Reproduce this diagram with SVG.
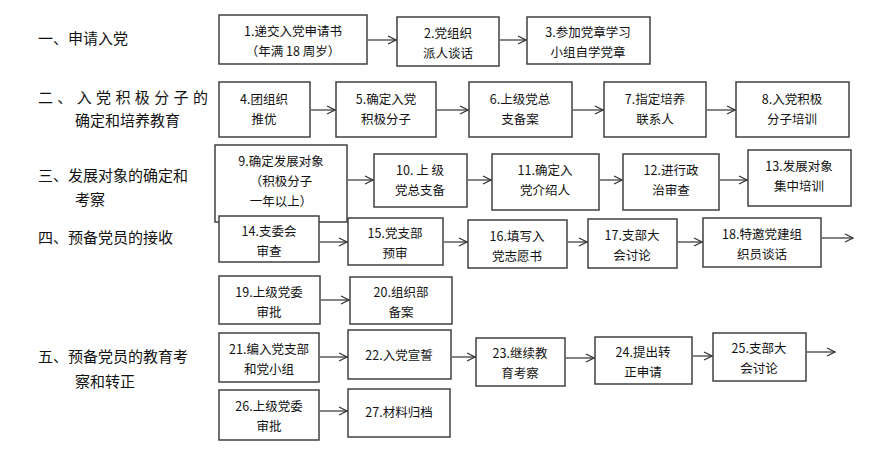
<svg xmlns="http://www.w3.org/2000/svg" width="877" height="455" viewBox="0 0 877 455">
<style>
rect{fill:#fff;stroke:#404040;stroke-width:1.5}
text{font-family:"Noto Sans CJK SC","Liberation Sans",sans-serif;fill:#111}
.b{font-size:12.5px;text-anchor:middle}
.h{font-size:15px}
.c line{stroke:#333;stroke-width:1.2;marker-end:url(#a)}
</style>
<defs><marker id="a" markerWidth="10" markerHeight="10" refX="9" refY="5" orient="auto" markerUnits="userSpaceOnUse"><path d="M1,1 L9,5 L1,9" fill="none" stroke="#333" stroke-width="1.2"/></marker></defs>
<rect width="877" height="455" style="stroke:none"/>
<g id="headings" class="h">
<text class="h" x="38" y="44">一、申请入党</text>
<text class="h" x="38" y="103" textLength="170">二、入党积极分子的</text>
<text class="h" x="75" y="126">确定和培养教育</text>
<text class="h" x="38" y="181">三、发展对象的确定和</text>
<text class="h" x="75" y="205">考察</text>
<text class="h" x="38" y="243">四、预备党员的接收</text>
<text class="h" x="38" y="362">五、预备党员的教育考</text>
<text class="h" x="75" y="387">察和转正</text>
</g>
<g id="n1"><rect x="219" y="15" width="148" height="49"/><text class="b" x="293" y="36">1.递交入党申请书</text><text class="b" x="293" y="56">（年满 18 周岁）</text></g>
<g id="n2"><rect x="397" y="17" width="102" height="49"/><text class="b" x="448" y="38">2.党组织</text><text class="b" x="448" y="58">派人谈话</text></g>
<g id="n3"><rect x="527" y="17" width="123" height="47"/><text class="b" x="588" y="37">3.参加党章学习</text><text class="b" x="588" y="57">小组自学党章</text></g>
<g id="n4"><rect x="219" y="82" width="91" height="55"/><text class="b" x="264" y="104">4.团组织</text><text class="b" x="264" y="124">推优</text></g>
<g id="n5"><rect x="336" y="82" width="100" height="55"/><text class="b" x="386" y="104">5.确定入党</text><text class="b" x="386" y="124">积极分子</text></g>
<g id="n6"><rect x="469" y="82" width="103" height="55"/><text class="b" x="520" y="104">6.上级党总</text><text class="b" x="520" y="124">支备案</text></g>
<g id="n7"><rect x="604" y="82" width="102" height="55"/><text class="b" x="655" y="104">7.指定培养</text><text class="b" x="655" y="124">联系人</text></g>
<g id="n8"><rect x="736" y="82" width="113" height="55"/><text class="b" x="792" y="104">8.入党积极</text><text class="b" x="792" y="124">分子培训</text></g>
<g id="n9"><rect x="215" y="145" width="132" height="77"/><text class="b" x="281" y="166">9.确定发展对象</text><text class="b" x="281" y="186">（积极分子</text><text class="b" x="281" y="206">一年以上）</text></g>
<g id="n10"><rect x="374" y="154" width="93" height="53"/><text class="b" x="420" y="175">10. 上 级</text><text class="b" x="420" y="195">党总支备</text></g>
<g id="n11"><rect x="492" y="154" width="107" height="56"/><text class="b" x="545" y="175">11.确定入</text><text class="b" x="545" y="195">党介绍人</text></g>
<g id="n12"><rect x="623" y="154" width="96" height="56"/><text class="b" x="671" y="175">12.进行政</text><text class="b" x="671" y="195">治审查</text></g>
<g id="n13"><rect x="748" y="150" width="103" height="56"/><text class="b" x="799" y="171">13.发展对象</text><text class="b" x="799" y="191">集中培训</text></g>
<g id="n14"><rect x="219" y="216" width="100" height="46"/><text class="b" x="269" y="236">14.支委会</text><text class="b" x="269" y="256">审查</text></g>
<g id="n15"><rect x="348" y="218" width="95" height="47"/><text class="b" x="395" y="238">15.党支部</text><text class="b" x="395" y="258">预审</text></g>
<g id="n16"><rect x="468" y="220" width="99" height="48"/><text class="b" x="517" y="241">16.填写入</text><text class="b" x="517" y="261">党志愿书</text></g>
<g id="n17"><rect x="588" y="219" width="89" height="49"/><text class="b" x="632" y="240">17.支部大</text><text class="b" x="632" y="260">会讨论</text></g>
<g id="n18"><rect x="703" y="218" width="118" height="49"/><text class="b" x="762" y="239">18.特邀党建组</text><text class="b" x="762" y="259">织员谈话</text></g>
<g id="n19"><rect x="219" y="276" width="101" height="48"/><text class="b" x="269" y="297">19.上级党委</text><text class="b" x="269" y="317">审批</text></g>
<g id="n20"><rect x="350" y="277" width="102" height="47"/><text class="b" x="401" y="297">20.组织部</text><text class="b" x="401" y="317">备案</text></g>
<g id="n21"><rect x="219" y="333" width="100" height="49"/><text class="b" x="269" y="354">21.编入党支部</text><text class="b" x="269" y="374">和党小组</text></g>
<g id="n22"><rect x="348" y="330" width="103" height="49"/><text class="b" x="399" y="360">22.入党宣誓</text></g>
<g id="n23"><rect x="476" y="338" width="89" height="48"/><text class="b" x="520" y="358">23.继续教</text><text class="b" x="520" y="378">育考察</text></g>
<g id="n24"><rect x="595" y="337" width="97" height="47"/><text class="b" x="643" y="357">24.提出转</text><text class="b" x="643" y="377">正申请</text></g>
<g id="n25"><rect x="713" y="333" width="93" height="48"/><text class="b" x="759" y="353">25.支部大</text><text class="b" x="759" y="373">会讨论</text></g>
<g id="n26"><rect x="219" y="390" width="100" height="50"/><text class="b" x="269" y="411">26.上级党委</text><text class="b" x="269" y="431">审批</text></g>
<g id="n27"><rect x="348" y="389" width="102" height="48"/><text class="b" x="399" y="417">27.材料归档</text></g>
<g id="connectors" class="c">
<line x1="368" y1="40" x2="396" y2="40"/>
<line x1="500" y1="40" x2="526" y2="40"/>
<line x1="311" y1="110" x2="335" y2="110"/>
<line x1="437" y1="110" x2="468" y2="110"/>
<line x1="573" y1="110" x2="603" y2="110"/>
<line x1="707" y1="110" x2="735" y2="110"/>
<line x1="348" y1="180" x2="373" y2="180"/>
<line x1="468" y1="180" x2="491" y2="180"/>
<line x1="600" y1="180" x2="622" y2="180"/>
<line x1="720" y1="180" x2="747" y2="180"/>
<line x1="320" y1="242" x2="347" y2="242"/>
<line x1="444" y1="242" x2="467" y2="242"/>
<line x1="568" y1="242" x2="587" y2="242"/>
<line x1="678" y1="242" x2="702" y2="242"/>
<line x1="822" y1="238" x2="853" y2="238"/>
<line x1="321" y1="300" x2="349" y2="300"/>
<line x1="320" y1="357" x2="347" y2="357"/>
<line x1="452" y1="357" x2="475" y2="357"/>
<line x1="566" y1="358" x2="594" y2="358"/>
<line x1="693" y1="356" x2="712" y2="356"/>
<line x1="807" y1="352" x2="835" y2="352"/>
<line x1="320" y1="411" x2="347" y2="411"/>
</g>
</svg>
